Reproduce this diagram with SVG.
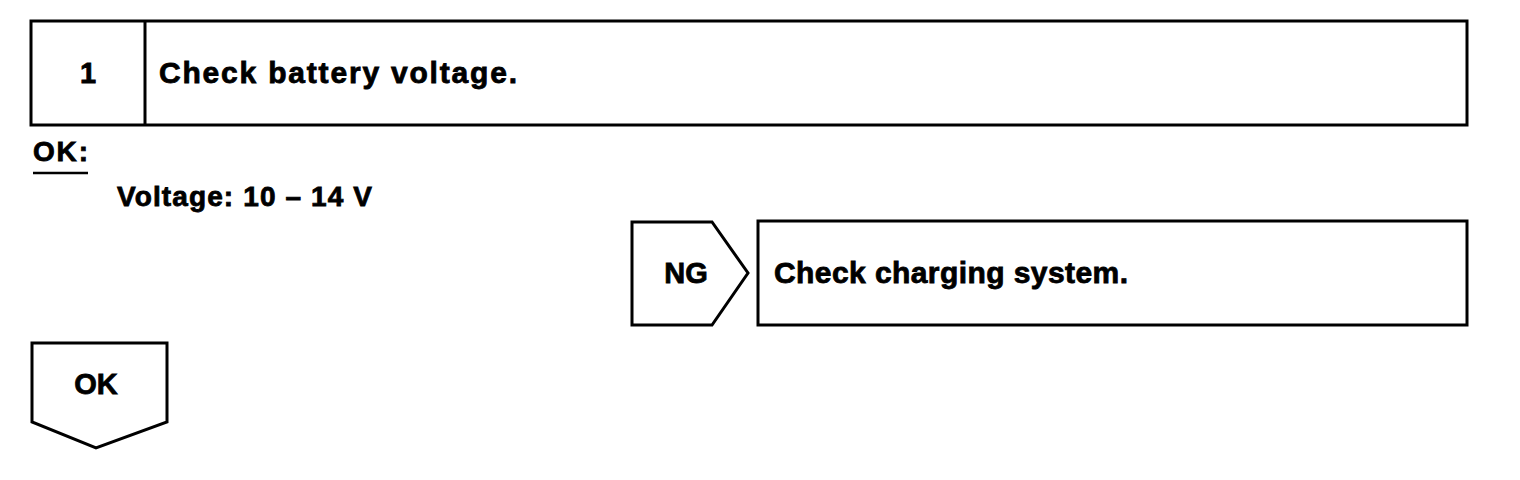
<svg xmlns="http://www.w3.org/2000/svg" width="1520" height="480" viewBox="0 0 1520 480">
<style>
.box{fill:#fff;stroke:#000;stroke-width:3}
.t{font-family:"Liberation Sans",Arial,sans-serif;font-weight:bold;fill:#000;stroke:#000;stroke-width:0.8}
</style>
<rect width="1520" height="480" fill="#fff"/>
<g id="step1">
<rect class="box" x="31" y="21" width="1436" height="104"/>
<line x1="145" y1="21" x2="145" y2="125" stroke="#000" stroke-width="3"/>
<text class="t" x="88" y="83" font-size="29" text-anchor="middle">1</text>
<text class="t" x="159" y="83" font-size="30" textLength="358" lengthAdjust="spacing">Check battery voltage.</text>
</g>
<g id="criteria">
<text class="t" x="33" y="161" font-size="28" textLength="55" lengthAdjust="spacing">OK:</text>
<line x1="33" y1="173" x2="88" y2="173" stroke="#000" stroke-width="2.5"/>
<text class="t" x="117" y="206" font-size="28" textLength="255" lengthAdjust="spacing">Voltage: 10 – 14 V</text>
</g>
<g id="ng">
<polygon class="box" points="632,222 712,222 748,273 712,325 632,325"/>
<text class="t" x="686" y="283" font-size="29" text-anchor="middle">NG</text>
</g>
<g id="charging">
<rect class="box" x="758" y="221" width="709" height="104"/>
<text class="t" x="774" y="283" font-size="30" textLength="354" lengthAdjust="spacing">Check charging system.</text>
</g>
<g id="ok">
<polygon class="box" points="32,343 167,343 167,422 96,448 32,422"/>
<text class="t" x="96" y="394" font-size="29" text-anchor="middle">OK</text>
</g>
<g id="connectors"></g>
</svg>
